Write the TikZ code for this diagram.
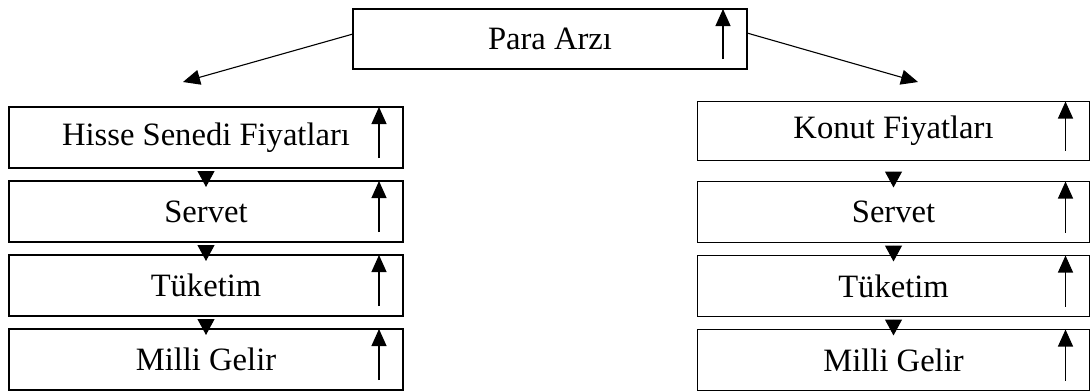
\documentclass[tikz,border=0pt]{standalone}
\usepackage{fontspec}
\setmainfont{Liberation Serif}
\usetikzlibrary{positioning,arrows.meta}

\begin{document}
\begin{tikzpicture}[x=0.5pt,y=-0.5pt,>={Triangle[length=8.5pt,width=7.5pt]},line width=0.55pt,
  font=\fontsize{16.3}{19}\selectfont,
  box/.style={draw,line width=0.9pt,minimum width=197pt,minimum height=30.5pt,inner sep=0pt,outer sep=0pt},
  down/.style={->,>={Triangle[length=8pt,width=8.5pt]},shorten >=-3pt,shorten <=1.5pt}]

\useasboundingbox (0,0) rectangle (1090,391);

\node[box,minimum height=30pt] (para) at (550,39) {Para Arzı};

% left column
\node[box] (hisse) at (206,137.5) {Hisse Senedi Fiyatları};
\node[box,below=6.5pt of hisse] (servet1) {Servet};
\node[box,below=6.5pt of servet1] (tuketim1) {Tüketim};
\node[box,below=6.5pt of tuketim1] (gelir1) {Milli Gelir};

% right column
\node[box,minimum width=196pt,minimum height=29.5pt] (konut) at (893.5,131) {Konut Fiyatları};
\node[box,minimum width=196pt,below=10.5pt of konut] (servet2) {Servet};
\node[box,minimum width=196pt,below=6.5pt of servet2] (tuketim2) {Tüketim};
\node[box,minimum width=196pt,below=6.5pt of tuketim2] (gelir2) {Milli Gelir};

\coordinate (lefttip) at (183,82);
\coordinate (righttip) at (918,82);

\draw[->] ([yshift=2.5pt]para.west) -- (lefttip);
\draw[->] ([yshift=3pt]para.east) -- (righttip);

\draw[down] (hisse) -- (servet1);
\draw[down] (servet1) -- (tuketim1);
\draw[down] (tuketim1) -- (gelir1);
\draw[down,shorten <=5.5pt] (konut) -- (servet2);
\draw[down] (servet2) -- (tuketim2);
\draw[down] (tuketim2) -- (gelir2);

% rising arrows inside the boxes
\foreach \b in {para,hisse,servet1,tuketim1,gelir1,konut,servet2,tuketim2,gelir2}
  \draw[->] ([xshift=-12pt,yshift=5pt]\b.south east) -- ([xshift=-12pt]\b.north east);

\end{tikzpicture}
\end{document}
